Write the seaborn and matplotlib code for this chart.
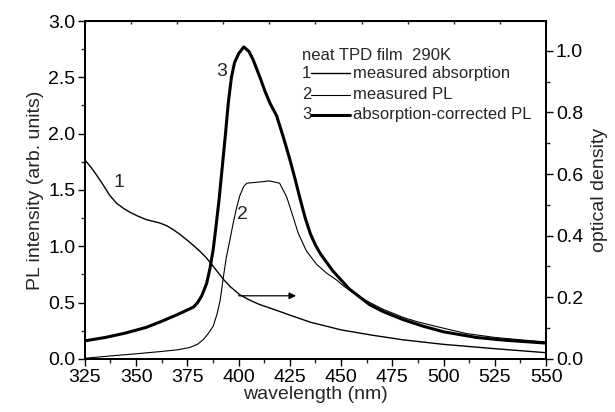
#!/usr/bin/env python3
"""Absorption and PL spectra of a neat TPD film (290K), two y axes."""

import numpy as np
import matplotlib
matplotlib.use("Agg")
import matplotlib.pyplot as plt
from matplotlib.lines import Line2D
from matplotlib.ticker import MultipleLocator
import seaborn as sns

# curve 1: measured absorption (optical density, right axis)
abs_wl = [325, 328, 331, 334, 337, 340.5, 344, 347, 351, 355, 358, 361.6, 365, 368, 371,
          374.6, 378, 381, 384, 387, 390, 393, 396, 400.6, 405, 410, 417, 425, 435, 450,
          465, 480, 500, 525, 550]
abs_od = [0.646, 0.622, 0.594, 0.564, 0.532, 0.505, 0.488, 0.476, 0.463, 0.452, 0.447, 0.441,
          0.432, 0.420, 0.406, 0.387, 0.368, 0.350, 0.330, 0.306, 0.280, 0.255, 0.234, 0.208,
          0.192, 0.177, 0.161, 0.142, 0.119, 0.094, 0.077, 0.062, 0.047, 0.033, 0.020]

# curve 2: measured PL (left axis)
pl_wl = [325, 340, 350, 362, 370, 376, 380, 382.7, 385, 387.6, 389.5, 391, 392.5, 394, 395.8,
         397.3, 399, 400.6, 402.5, 404, 410, 415, 420, 423.4, 426.6, 429, 433, 438, 443,
         447.8, 451, 459, 464, 470.5, 480, 487, 497, 511, 525, 540, 550]
pl_int = [0.005, 0.03, 0.045, 0.065, 0.08, 0.10, 0.13, 0.17, 0.22, 0.29, 0.40, 0.52, 0.72, 0.90,
          1.06, 1.20, 1.34, 1.45, 1.53, 1.56, 1.57, 1.58, 1.56, 1.44, 1.26, 1.12, 0.96, 0.84,
          0.76, 0.70, 0.65, 0.55, 0.50, 0.44, 0.37, 0.33, 0.285, 0.225, 0.19, 0.165, 0.15]

# curve 3: absorption-corrected PL (left axis)
cor_wl = [325, 335, 345, 355, 362, 371, 378, 380, 382, 384.4, 386, 387.6, 389, 390.5, 392,
          393.5, 395, 396.5, 398, 400, 402.5, 405, 407, 410.4, 413, 415.3, 418.5, 421.8, 425,
          427.5, 430, 432.5, 435, 437.5, 440, 446, 454, 464, 470.5, 480, 490, 500, 516, 530, 550]
cor_int = [0.16, 0.19, 0.23, 0.28, 0.33, 0.40, 0.46, 0.50, 0.56, 0.67, 0.80, 0.97, 1.18, 1.42,
           1.70, 1.98, 2.28, 2.50, 2.63, 2.71, 2.77, 2.73, 2.66, 2.50, 2.37, 2.27, 2.16, 1.97,
           1.77, 1.60, 1.42, 1.25, 1.11, 1.01, 0.93, 0.78, 0.62, 0.48, 0.42, 0.35, 0.29, 0.24,
           0.19, 0.165, 0.14]

legend_rows = ["measured absorption", "measured PL", "absorption-corrected PL"]
top_ticks = [325 + 22.5 * k for k in range(11)]

sns.set_style("ticks")
plt.rcParams["font.family"] = ["Liberation Sans", "DejaVu Sans"]

fig = plt.figure(figsize=(6.15, 4.12), dpi=100)
ax = fig.add_axes([0.138, 0.129, 0.750, 0.820])
ax2 = ax.twinx()

sns.lineplot(x=pl_wl, y=pl_int, ax=ax, color="black", lw=0.8, sort=False, estimator=None)
sns.lineplot(x=cor_wl, y=cor_int, ax=ax, color="black", lw=2.2, sort=False, estimator=None)
sns.lineplot(x=abs_wl, y=abs_od, ax=ax2, color="black", lw=1.0, sort=False, estimator=None)

ax.set_xlim(325, 550)
ax.set_ylim(0, 3.0)
ax2.set_ylim(0, 1.097)

ax.xaxis.set_major_locator(MultipleLocator(25))
ax.xaxis.set_minor_locator(MultipleLocator(12.5))
ax.yaxis.set_major_locator(MultipleLocator(0.5))
ax.yaxis.set_minor_locator(MultipleLocator(0.25))
ax2.yaxis.set_major_locator(MultipleLocator(0.2))
ax2.yaxis.set_minor_locator(MultipleLocator(0.1))
ax.yaxis.set_major_formatter(plt.FormatStrFormatter("%.1f"))
ax2.yaxis.set_major_formatter(plt.FormatStrFormatter("%.1f"))

for a in (ax, ax2):
    a.tick_params(which="major", direction="out", length=5, width=1.0, labelsize=14,
                  colors="black", pad=2)
    a.tick_params(which="minor", direction="out", length=3, width=1.0)
    for s in a.spines.values():
        s.set_linewidth(1.3)
        s.set_color("black")

# little inward ticks along the top frame
top = ax.secondary_xaxis("top")
top.set_xticks(top_ticks)
top.tick_params(direction="in", length=2.5, width=1.0, labeltop=False)
top.xaxis.set_minor_locator(plt.NullLocator())

ax.set_xlabel("wavelength (nm)", fontsize=14, labelpad=0)
ax.set_ylabel("PL intensity (arb. units)", fontsize=14, labelpad=3)
ax2.set_ylabel("optical density", fontsize=14, labelpad=6)

# curve numbers
ax.text(341.6, 1.57, "1", fontsize=14, ha="center", va="center")
ax.text(402.0, 1.28, "2", fontsize=14, ha="center", va="center")
ax.text(391.5, 2.55, "3", fontsize=14, ha="center", va="center")

# arrow pointing absorption curve to the right axis
ax.annotate("", xy=(428, 0.56), xytext=(400, 0.56),
            arrowprops=dict(arrowstyle="-|>", color="black", lw=0.9,
                            mutation_scale=10, shrinkA=0, shrinkB=0))

# hand-made legend block
ax.text(0.471, 0.899, "neat TPD film  290K", transform=ax.transAxes,
        fontsize=12, va="center", ha="left")
row_y = [0.846, 0.781, 0.722]
row_lw = [1.0, 0.8, 2.2]
for i, (lbl, yy, lw) in enumerate(zip(legend_rows, row_y, row_lw)):
    ax.text(0.471, yy, str(i + 1), transform=ax.transAxes, fontsize=12,
            va="center", ha="left")
    ax.add_line(Line2D([0.490, 0.575], [yy, yy], transform=ax.transAxes,
                       color="black", lw=lw))
    ax.text(0.581, yy, lbl, transform=ax.transAxes, fontsize=12,
            va="center", ha="left")

fig.savefig("out.png", dpi=100)
plt.close(fig)
